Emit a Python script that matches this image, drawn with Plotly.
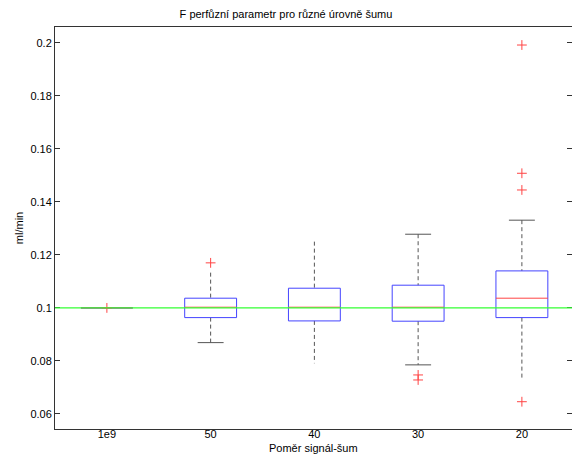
import plotly.graph_objects as go

# ---- data ----
categories = ["1e9", "50", "40", "30", "20"]
q1 = [0.1000, 0.09634, 0.09509, 0.09498, 0.09634]
median = [0.1000, 0.10026, 0.10026, 0.10026, 0.10366]
q3 = [0.1000, 0.10366, 0.10743, 0.10857, 0.11396]
whisker_low = [0.1000, 0.0869, 0.0791, 0.0785, 0.0728]
whisker_high = [0.1000, 0.1133, 0.1250, 0.1278, 0.1331]
outliers = [[0.1000], [0.1170], [], [0.0747, 0.0728], [0.1992, 0.1508, 0.1445, 0.0646]]
true_value = 0.1
y_ticks = [0.06, 0.08, 0.1, 0.12, 0.14, 0.16, 0.18, 0.2]
y_ticktext = ["0.06", "0.08", "0.1", "0.12", "0.14", "0.16", "0.18", "0.2"]

# ---- style ----
HALF_BOX = 0.25
HALF_CAP = 0.125
cap_upper_visible = [False, False, False, True, True]
cap_lower_visible = [False, True, False, True, False]
FONT = "Liberation Sans, Arial, Helvetica, sans-serif"

positions = list(range(1, len(categories) + 1))

fig = go.Figure()

# whiskers (dashed)
wx, wy = [], []
for p, lo, hi, a, b in zip(positions, whisker_low, whisker_high, q1, q3):
    wx += [p, p, None, p, p, None]
    wy += [hi, b, None, a, lo, None]
fig.add_trace(go.Scatter(x=wx, y=wy, mode="lines", hoverinfo="skip",
                         line=dict(color="#555555", width=1, dash="4px,3px"),
                         showlegend=False))

# caps
cx, cy = [], []
for p, lo, hi, cu, cl in zip(positions, whisker_low, whisker_high,
                             cap_upper_visible, cap_lower_visible):
    if cu:
        cx += [p - HALF_CAP, p + HALF_CAP, None]
        cy += [hi, hi, None]
    if cl:
        cx += [p - HALF_CAP, p + HALF_CAP, None]
        cy += [lo, lo, None]
fig.add_trace(go.Scatter(x=cx, y=cy, mode="lines", hoverinfo="skip",
                         line=dict(color="#555555", width=1), showlegend=False))

# boxes
bx, by = [], []
for p, a, b in zip(positions, q1, q3):
    bx += [p - HALF_BOX, p + HALF_BOX, p + HALF_BOX, p - HALF_BOX, p - HALF_BOX, None]
    by += [a, a, b, b, a, None]
fig.add_trace(go.Scatter(x=bx, y=by, mode="lines", hoverinfo="skip",
                         line=dict(color="#4444ff", width=1), showlegend=False))

# medians
mx, my = [], []
for p, m in zip(positions, median):
    mx += [p - HALF_BOX, p + HALF_BOX, None]
    my += [m, m, None]
fig.add_trace(go.Scatter(x=mx, y=my, mode="lines", hoverinfo="skip",
                         line=dict(color="#ff4444", width=1), showlegend=False))

# outliers
ox, oy = [], []
for p, outs in zip(positions, outliers):
    for v in outs:
        ox.append(p)
        oy.append(v)
fig.add_trace(go.Scatter(x=ox, y=oy, mode="markers", showlegend=False,
                         marker=dict(symbol="cross-thin", size=7,
                                     line=dict(color="#ff4444", width=1))))

# true value line
fig.add_hline(y=true_value, line=dict(color="#33ff33", width=1.2))

# x-axis title as annotation (tight spacing under the tick labels)
fig.add_annotation(text="Poměr signál-šum", xref="paper", yref="paper",
                   x=0.5, y=0, xanchor="center", yanchor="top", yshift=-11,
                   showarrow=False, font=dict(size=11))

fig.update_layout(
    width=572, height=454,
    margin=dict(l=55, r=0, t=27, b=25),
    paper_bgcolor="white", plot_bgcolor="white",
    font=dict(family=FONT, size=11, color="black"),
    title=dict(text="F perfůzní parametr pro různé úrovně šumu",
               x=0.5, xref="container", xanchor="center",
               y=0.968, yref="container", yanchor="middle",
               font=dict(size=11)),
    xaxis=dict(range=[0.5, 5.483], tickvals=positions, ticktext=categories,
               showline=True, linecolor="#333333", linewidth=1, mirror=True,
               ticks="", showgrid=False, zeroline=False, ticklabelstandoff=-5,
               tickfont=dict(size=11)),
    yaxis=dict(range=[0.0543, 0.206], tickvals=y_ticks, ticktext=y_ticktext,
               showline=True, linecolor="#333333", linewidth=1, mirror="ticks",
               ticks="inside", ticklen=5, tickcolor="#333333",
               showgrid=False, zeroline=False,
               title=dict(text="ml/min", standoff=4, font=dict(size=11))),
)

fig.write_html("out.html")
